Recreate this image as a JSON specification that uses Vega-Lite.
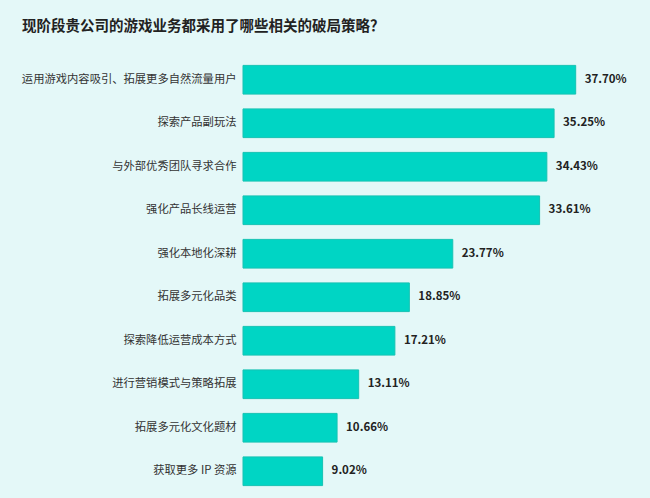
{
  "$schema": "https://vega.github.io/schema/vega-lite/v6.json",
  "autosize": "none",
  "width": 353,
  "height": 435,
  "padding": {"left": 243, "top": 58, "right": 54, "bottom": 5},
  "background": "#e4f8f8",
  "config": {
    "font": "Noto Sans CJK SC",
    "view": {"stroke": null}
  },
  "title": {
    "text": "现阶段贵公司的游戏业务都采用了哪些相关的破局策略？",
    "anchor": "start",
    "frame": "group",
    "dx": -221,
    "offset": 24,
    "fontSize": 14.5,
    "fontWeight": "bold",
    "color": "#222222"
  },
  "data": {
    "values": [
      {"strategy": "运用游戏内容吸引、拓展更多自然流量用户", "share": 0.3770},
      {"strategy": "探索产品副玩法", "share": 0.3525},
      {"strategy": "与外部优秀团队寻求合作", "share": 0.3443},
      {"strategy": "强化产品长线运营", "share": 0.3361},
      {"strategy": "强化本地化深耕", "share": 0.2377},
      {"strategy": "拓展多元化品类", "share": 0.1885},
      {"strategy": "探索降低运营成本方式", "share": 0.1721},
      {"strategy": "进行营销模式与策略拓展", "share": 0.1311},
      {"strategy": "拓展多元化文化题材", "share": 0.1066},
      {"strategy": "获取更多 IP 资源", "share": 0.0902}
    ]
  },
  "encoding": {
    "y": {
      "field": "strategy",
      "type": "nominal",
      "sort": null,
      "title": null,
      "scale": {"paddingInner": 0.34, "paddingOuter": 0.17},
      "axis": {
        "ticks": false,
        "domain": false,
        "labelPadding": 7,
        "labelFontSize": 11.3,
        "labelColor": "#333333",
        "labelLimit": 300
      }
    },
    "x": {
      "field": "share",
      "type": "quantitative",
      "title": null,
      "scale": {"domain": [0, 0.4], "nice": false},
      "axis": null
    }
  },
  "layer": [
    {
      "mark": {"type": "bar", "color": "#00d5c4", "stroke": "#16c3b3", "strokeWidth": 1}
    },
    {
      "mark": {"type": "text", "align": "left", "baseline": "middle", "dx": 9, "fontSize": 11.5, "fontWeight": "bold", "color": "#222222"},
      "encoding": {
        "text": {"field": "share", "type": "quantitative", "format": ".2%"}
      }
    }
  ]
}
